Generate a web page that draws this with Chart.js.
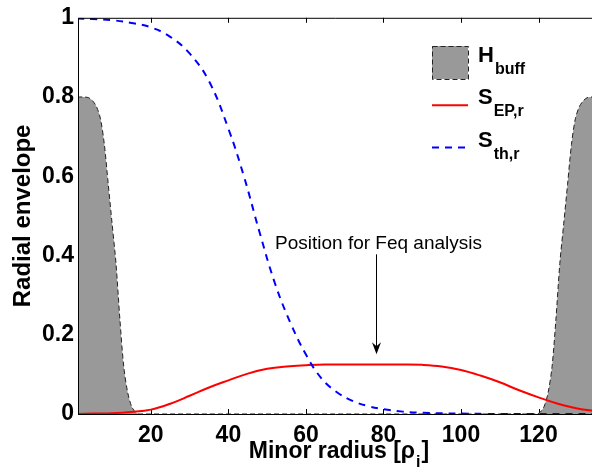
<!DOCTYPE html>
<html>
<head>
<meta charset="utf-8">
<script src="https://cdn.jsdelivr.net/npm/chart.js@4.4.1/dist/chart.umd.min.js"></script>
<style>
  html, body { margin: 0; padding: 0; background: #fff; }
  #wrap { width: 592px; height: 471px; }
</style>
</head>
<body>
<div id="wrap"><canvas id="envChart" width="592" height="471"></canvas></div>
<script>
// axis ticks
const xTicks = [20, 40, 60, 80, 100, 120];
const yTicks = [0, 0.2, 0.4, 0.6, 0.8, 1];

// H_buff : buffer zones at both ends
const buffX = [1, 3, 4, 5, 6, 7, 8, 9, 10, 11, 12, 13, 14, 15, 16, 17,
               119.5, 120.5, 121.5, 122.5, 123.5, 124.5, 125.5, 126.5, 127.5, 128.5, 129.5, 130.5, 131.5, 132.5, 133.5, 135];
const buffY = [0.8, 0.8, 0.798, 0.79, 0.775, 0.745, 0.68, 0.58, 0.48, 0.38, 0.24, 0.12, 0.055, 0.02, 0.005, 0,
               0, 0.005, 0.02, 0.055, 0.12, 0.24, 0.38, 0.48, 0.58, 0.68, 0.745, 0.775, 0.79, 0.798, 0.8, 0.8];

// S_EP,r
const sepX = [1, 5, 10, 15, 20, 25, 30, 35, 40, 45, 50, 55, 60, 65, 70, 75, 80, 85, 90, 95, 100, 105, 110, 115, 120, 125, 130, 135];
const sepY = [0, 0.001, 0.002, 0.005, 0.011, 0.026, 0.046, 0.067, 0.085, 0.102, 0.114, 0.120, 0.123, 0.125, 0.125, 0.125, 0.125, 0.125, 0.124, 0.120, 0.111, 0.097, 0.080, 0.060, 0.042, 0.026, 0.014, 0.007];

// S_th,r
const sthX = [1, 5, 10, 15, 20, 25, 30, 35, 40, 44, 48, 52, 56, 60, 64, 68, 72, 76, 80, 85, 90, 100, 110, 135];
const sthY = [0.998, 0.997, 0.994, 0.987, 0.976, 0.952, 0.91, 0.84, 0.72, 0.60, 0.46, 0.33, 0.23, 0.15, 0.09, 0.055, 0.033, 0.02, 0.012, 0.006, 0.003, 0.001, 0, 0];

const legendMain = ['H', 'S', 'S'];
const legendSub = ['buff', 'EP,r', 'th,r'];

const noteText = 'Position for Feq analysis';
const noteX = 78;
const noteFrom = 0.403;
const noteTo = 0.151;
const noteTextY = 0.416;

const FONT = '"Liberation Sans", Arial, Helvetica, sans-serif';

function pts(xs, ys) {
    return xs.map((x, i) => ({ x: x, y: ys[i] }));
}

// ticks pointing inward, drawn under the data like matlab does
const tickMarks = {
    id: 'tickMarks',
    beforeDatasetsDraw(chart) {
        const { ctx, chartArea: a, scales: { x, y } } = chart;
        ctx.save();
        ctx.strokeStyle = '#000';
        ctx.lineWidth = 1;
        ctx.beginPath();
        xTicks.forEach(v => {
            const px = Math.round(x.getPixelForValue(v)) + 0.5;
            ctx.moveTo(px, a.bottom); ctx.lineTo(px, a.bottom - 5);
            ctx.moveTo(px, a.top); ctx.lineTo(px, a.top + 5);
        });
        yTicks.forEach(v => {
            const py = Math.round(y.getPixelForValue(v)) + 0.5;
            ctx.moveTo(a.left, py); ctx.lineTo(a.left + 5, py);
        });
        ctx.stroke();
        ctx.restore();
    }
};

const decorations = {
    id: 'decorations',
    afterDatasetsDraw(chart) {
        const { ctx, chartArea: a, scales: { x, y } } = chart;
        ctx.save();

        // axes box (right side falls outside the picture)
        ctx.strokeStyle = '#000';
        ctx.lineWidth = 1;
        ctx.beginPath();
        ctx.moveTo(a.right, a.top + 0.5); ctx.lineTo(a.left + 0.5, a.top + 0.5);
        ctx.lineTo(a.left + 0.5, a.bottom + 0.5); ctx.lineTo(a.right, a.bottom + 0.5);
        ctx.stroke();

        // arrow + note
        const ax = Math.round(x.getPixelForValue(noteX)) + 0.5;
        const y0 = y.getPixelForValue(noteFrom);
        const y1 = y.getPixelForValue(noteTo);
        ctx.beginPath();
        ctx.moveTo(ax, y0); ctx.lineTo(ax, y1 - 6);
        ctx.stroke();
        ctx.fillStyle = '#000';
        ctx.beginPath();
        ctx.moveTo(ax, y1);
        ctx.lineTo(ax - 4.5, y1 - 12);
        ctx.lineTo(ax, y1 - 8);
        ctx.lineTo(ax + 4.5, y1 - 12);
        ctx.closePath();
        ctx.fill();

        ctx.font = '19px ' + FONT;
        ctx.textAlign = 'center';
        ctx.textBaseline = 'alphabetic';
        ctx.fillText(noteText, ax + 2, y.getPixelForValue(noteTextY));

        // legend with subscripts
        const ds = chart.data.datasets;
        ctx.textAlign = 'left';
        legendMain.forEach((m, i) => {
            const base = 62 + i * 42.3;
            const d = ds[i];
            if (i === 0) {
                ctx.fillStyle = d.backgroundColor;
                ctx.fillRect(432, base - 16, 36, 33);
                ctx.setLineDash(d.borderDash);
                ctx.strokeStyle = d.borderColor;
                ctx.lineWidth = 1;
                ctx.strokeRect(432.5, base - 15.5, 36, 33);
            } else {
                ctx.setLineDash(d.borderDash || []);
                ctx.strokeStyle = d.borderColor;
                ctx.lineWidth = d.borderWidth;
                ctx.beginPath();
                ctx.moveTo(432, base + 1); ctx.lineTo(468, base + 1);
                ctx.stroke();
            }
            ctx.setLineDash([]);
            ctx.fillStyle = '#000';
            ctx.font = 'bold 22px ' + FONT;
            ctx.fillText(m, 478, base);
            const w = ctx.measureText(m).width;
            ctx.font = 'bold 16px ' + FONT;
            ctx.fillText(legendSub[i], 478 + w + 1, base + 12);
        });

        // x axis title with subscript
        const t1 = 'Minor radius [\u03c1', t2 = 'i', t3 = ']';
        ctx.font = 'bold 23px ' + FONT;
        const w1 = ctx.measureText(t1).width, w3 = ctx.measureText(t3).width;
        ctx.font = 'bold 16px ' + FONT;
        const w2 = ctx.measureText(t2).width;
        let tx = (a.left + a.right) / 2 + 3 - (w1 + w2 + w3) / 2;
        const tb = 458;
        ctx.font = 'bold 23px ' + FONT;
        ctx.fillText(t1, tx, tb);
        ctx.font = 'bold 16px ' + FONT;
        ctx.fillText(t2, tx + w1 + 1, tb + 9);
        ctx.font = 'bold 23px ' + FONT;
        ctx.fillText(t3, tx + w1 + w2 + 2, tb);

        ctx.restore();
    }
};

const tickFont = { family: FONT, size: 23, weight: 'bold' };

new Chart(document.getElementById('envChart'), {
    type: 'line',
    data: {
        datasets: [
            {
                label: 'H_buff',
                data: pts(buffX, buffY),
                backgroundColor: '#999999',
                borderColor: '#222222',
                borderWidth: 1,
                borderDash: [5, 3],
                fill: 'origin',
                tension: 0.3,
                order: 3
            },
            {
                label: 'S_EP,r',
                data: pts(sepX, sepY),
                borderColor: '#ff0000',
                borderWidth: 2,
                fill: false,
                tension: 0.4,
                order: 2
            },
            {
                label: 'S_th,r',
                data: pts(sthX, sthY),
                borderColor: '#0000ff',
                borderWidth: 2,
                borderDash: [7, 6],
                fill: false,
                tension: 0.4,
                order: 1
            }
        ]
    },
    options: {
        responsive: false,
        animation: false,
        devicePixelRatio: 1,
        layout: { padding: { top: 11, right: 0, left: 0, bottom: 0 } },
        elements: { point: { radius: 0 } },
        plugins: { legend: { display: false }, tooltip: { enabled: false } },
        scales: {
            x: {
                type: 'linear',
                min: 1.2,
                max: 133.8,
                afterBuildTicks: s => { s.ticks = xTicks.map(v => ({ value: v })); },
                afterFit: s => { s.height = 57; },
                grid: { display: false, drawTicks: false },
                border: { display: false },
                ticks: { color: '#000', font: tickFont, padding: 8, maxRotation: 0, autoSkip: false }
            },
            y: {
                min: 0,
                max: 1,
                afterBuildTicks: s => { s.ticks = yTicks.map(v => ({ value: v })); },
                afterFit: s => { s.width = 78; },
                grid: { display: false, drawTicks: false },
                border: { display: false },
                ticks: { color: '#000', font: tickFont, padding: 4, callback: v => String(v) },
                title: { display: true, text: 'Radial envelope', color: '#000', font: { family: FONT, size: 24, weight: 'bold' }, padding: { top: 9 } }
            }
        }
    },
    plugins: [tickMarks, decorations]
});
</script>
</body>
</html>
